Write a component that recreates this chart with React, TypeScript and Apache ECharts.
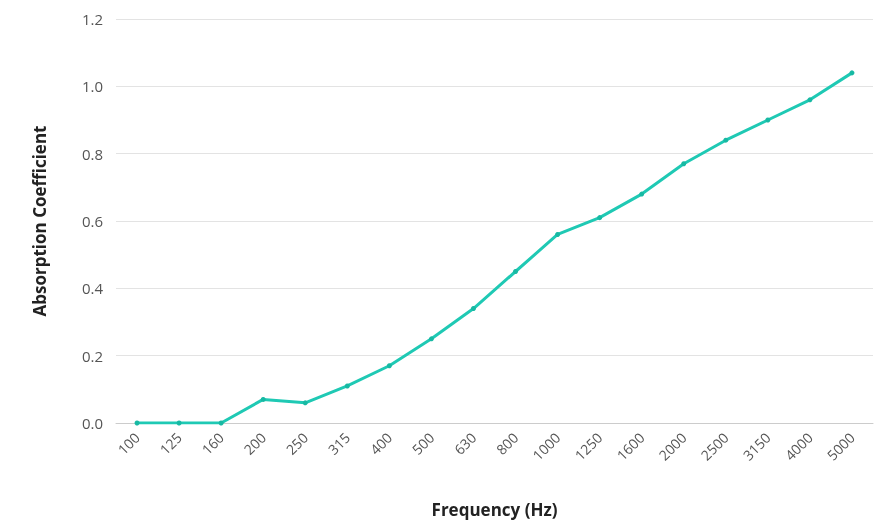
import React, { useEffect, useRef } from "react";
import * as echarts from "echarts";

const frequencies = ["100", "125", "160", "200", "250", "315", "400", "500", "630", "800", "1000", "1250", "1600", "2000", "2500", "3150", "4000", "5000"];
const absorption = [0, 0, 0, 0.07, 0.06, 0.11, 0.17, 0.25, 0.34, 0.45, 0.56, 0.61, 0.68, 0.77, 0.84, 0.9, 0.96, 1.04];

export default function App() {
  const ref = useRef<HTMLDivElement>(null);
  useEffect(() => {
    const chart = echarts.init(ref.current!, null, { renderer: "svg" });
    chart.setOption({
      animation: false,
      textStyle: { fontFamily: "'Open Sans', sans-serif" },
      grid: { left: 116, right: 4, top: 19, bottom: 98, outerBoundsMode: "none", containLabel: false },
      xAxis: {
        type: "category",
        data: frequencies,
        boundaryGap: true,
        name: "Frequency (Hz)",
        nameLocation: "middle",
        nameGap: 78,
        nameTextStyle: { fontSize: 17, fontWeight: "bold", color: "#222" },
        axisLine: { lineStyle: { color: "#cccccc" } },
        axisTick: { show: false },
        axisLabel: { rotate: 45, fontSize: 14, color: "#555", margin: 12 },
      },
      yAxis: {
        type: "value",
        min: 0,
        max: 1.2,
        interval: 0.2,
        name: "Absorption Coefficient",
        nameLocation: "middle",
        nameGap: 68,
        nameTextStyle: { fontSize: 17, fontWeight: "bold", color: "#222" },
        axisLabel: { fontSize: 15, color: "#555", margin: 13, formatter: (v: number) => v.toFixed(1) },
        splitLine: { lineStyle: { color: "#e3e3e3" } },
        axisLine: { show: false },
        axisTick: { show: false },
      },
      series: [
        {
          type: "line",
          data: absorption,
          symbol: "circle",
          symbolSize: 5,
          lineStyle: { color: "#1fc9b4", width: 3 },
          itemStyle: { color: "#17b9a3" },
        },
      ],
    });
    return () => chart.dispose();
  }, []);
  return <div ref={ref} style={{ position: "fixed", left: 0, top: 0, width: 877, height: 521 }} />;
}
